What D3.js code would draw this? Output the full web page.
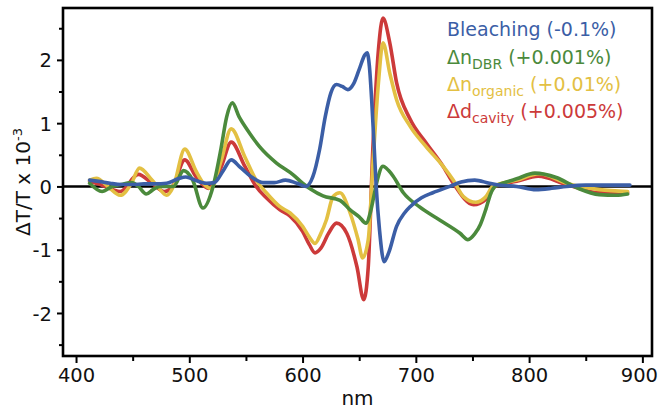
<!DOCTYPE html>
<html>
<head>
<meta charset="utf-8">
<script src="https://cdn.jsdelivr.net/npm/d3@7"></script>
<style>
  html, body { margin: 0; padding: 0; background: #fff; }
  svg { display: block; }
  text { font-family: "DejaVu Sans", Verdana, sans-serif; }
</style>
</head>
<body>
<svg id="chart" width="659" height="412"></svg>
<script>
// ---- data (wavelength in nm, ΔT/T in units of 1e-3) ----
const bleachingNm  = [412,420,430,440,450,460,470,480,490,497,505,515,522,530,537,545,555,565,575,585,595,603,609,615,620,625,630,635,640,645,650,655,657,659,661,663,665,668,672,676,683,690,695,705,715,730,740,752,765,775,789,806,820,833,850,870,889];
const bleachingVal = [0.10,0.08,0.05,0.03,0.03,0.04,0.04,0.05,0.12,0.15,0.10,0.05,0.06,0.25,0.42,0.30,0.15,0.06,0.06,0.10,0.05,0.00,0.15,0.58,1.10,1.48,1.61,1.58,1.53,1.62,1.85,2.08,2.11,1.90,1.37,0.70,0.00,-0.70,-1.19,-1.05,-0.63,-0.42,-0.32,-0.18,-0.10,0.00,0.07,0.10,0.05,0.02,0.00,-0.05,-0.03,0.00,0.02,0.02,0.02];

const dbrNm  = [412,423,432,440,449,455,462,468,474,486,495,503,512,521,528,533,538,544,551,562,577,592,600,607,618,633,642,650,656,660,663,666,671,676,680,689,703,721,739,746,752,757,762,766,770,780,789,805,824,842,862,877,887];
const dbrVal = [0.05,-0.08,0.00,0.03,0.06,0.00,-0.12,-0.05,0.00,0.00,0.25,0.10,-0.34,0.00,0.60,1.10,1.32,1.10,0.90,0.63,0.37,0.18,0.05,-0.04,-0.15,-0.22,-0.37,-0.48,-0.58,-0.40,-0.15,0.10,0.32,0.25,0.16,-0.10,-0.32,-0.53,-0.74,-0.84,-0.75,-0.60,-0.35,-0.12,0.00,0.07,0.12,0.21,0.14,-0.02,-0.13,-0.14,-0.12];

const organicNm  = [412,418,428,439,449,456,467,472,480,486,496,506,512,519,528,537,549,559,568,580,589,600,606,611,616,621,627,633,642,649,653,658,662,667,671,677,683,695,709,724,733,742,753,762,768,789,809,833,862,887];
const organicVal = [0.10,0.13,0.00,-0.14,0.05,0.29,0.10,0.00,-0.14,0.00,0.59,0.24,0.06,-0.03,0.40,0.91,0.47,0.10,-0.10,-0.32,-0.42,-0.63,-0.80,-0.90,-0.75,-0.53,-0.16,-0.10,-0.42,-0.84,-1.13,-0.84,0.32,1.64,2.27,1.79,1.37,0.95,0.63,0.32,0.10,-0.16,-0.25,-0.16,0.00,0.10,0.20,0.05,-0.05,-0.08];

const cavityNm  = [412,423,439,455,467,478,486,496,506,517,528,537,549,559,568,580,589,600,606,611,616,623,630,639,648,654,658,662,667,671,677,683,695,709,724,733,751,762,770,789,808,833,862,887];
const cavityVal = [0.08,0.02,-0.08,0.19,0.05,-0.08,0.02,0.42,0.15,-0.03,0.30,0.70,0.32,0.00,-0.18,-0.37,-0.47,-0.71,-0.92,-1.05,-0.98,-0.74,-0.58,-0.74,-1.27,-1.79,-1.27,0.58,2.16,2.66,2.27,1.64,1.06,0.69,0.32,0.05,-0.29,-0.20,0.00,0.08,0.16,0.03,-0.10,-0.10];

const xTicks = [400, 500, 600, 700, 800, 900];
const xMinor = [450, 550, 650, 750, 850];
const yTicks = [-2, -1, 0, 1, 2];
const yMinor = [-2.5, -1.5, -0.5, 0.5, 1.5, 2.5];

const seriesColors = { cavity: "#cc3a3a", organic: "#e3c043", dbr: "#4b8a3c", bleaching: "#3b5ea6" };

// ---- layout ----
const svg = d3.select("#chart");
const plotLeft = 63, plotRight = 652, plotTop = 8, plotBottom = 356;
const x = d3.scaleLinear().domain([388.5, 908.5]).range([plotLeft, plotRight]);
const y = d3.scaleLinear().domain([-2.68, 2.82]).range([plotBottom, plotTop]);

// zero line
svg.append("line")
  .attr("x1", plotLeft).attr("x2", plotRight)
  .attr("y1", y(0)).attr("y2", y(0))
  .attr("stroke", "#000").attr("stroke-width", 2.6);

// curves
const line = d3.line().x(d => x(d[0])).y(d => y(d[1])).curve(d3.curveMonotoneX);
const series = [
  { nm: cavityNm, v: cavityVal, c: seriesColors.cavity },
  { nm: organicNm, v: organicVal, c: seriesColors.organic },
  { nm: dbrNm, v: dbrVal, c: seriesColors.dbr },
  { nm: bleachingNm, v: bleachingVal, c: seriesColors.bleaching }
];
series.forEach(s => {
  svg.append("path")
    .datum(s.nm.map((n, i) => [n, s.v[i]]))
    .attr("d", line)
    .attr("fill", "none")
    .attr("stroke", s.c)
    .attr("stroke-width", 3.6)
    .attr("stroke-linejoin", "round")
    .attr("stroke-linecap", "round");
});

// axes
const fmt = d => String(d);
const xAxis = svg.append("g").attr("transform", `translate(0,${plotBottom})`)
  .call(d3.axisBottom(x).tickValues(xTicks).tickFormat(fmt).tickSize(7).tickSizeOuter(0).tickPadding(5));
const xAxisMinor = svg.append("g").attr("transform", `translate(0,${plotBottom})`)
  .call(d3.axisBottom(x).tickValues(xMinor).tickSize(5).tickSizeOuter(0).tickFormat(""));
const yAxis = svg.append("g").attr("transform", `translate(${plotLeft},0)`)
  .call(d3.axisLeft(y).tickValues(yTicks).tickFormat(fmt).tickSize(6).tickSizeOuter(0).tickPadding(5));
const yAxisMinor = svg.append("g").attr("transform", `translate(${plotLeft},0)`)
  .call(d3.axisLeft(y).tickValues(yMinor).tickSize(4).tickSizeOuter(0).tickFormat(""));
[xAxis, xAxisMinor, yAxis, yAxisMinor].forEach(g => {
  g.select(".domain").remove();
  g.selectAll(".tick line").attr("stroke", "#000").attr("stroke-width", 2);
  g.selectAll(".tick text").attr("font-size", 19.5).attr("fill", "#111")
    .attr("font-family", '"DejaVu Sans", Verdana, sans-serif');
});
yAxis.selectAll(".tick text").attr("dy", "0.36em");
// keep the last x label inside the picture
xAxis.selectAll(".tick text").filter(d => d === 900).attr("dx", -3.5);

// frame
svg.append("rect")
  .attr("x", plotLeft).attr("y", plotTop)
  .attr("width", plotRight - plotLeft).attr("height", plotBottom - plotTop)
  .attr("fill", "none").attr("stroke", "#000").attr("stroke-width", 2.6);

// axis titles
svg.append("text")
  .attr("x", (plotLeft + plotRight) / 2).attr("y", 405)
  .attr("text-anchor", "middle").attr("font-size", 20).attr("fill", "#111")
  .text("nm");

const yl = svg.append("text")
  .attr("transform", `translate(30,${(plotTop + plotBottom) / 2}) rotate(-90)`)
  .attr("text-anchor", "middle").attr("font-size", 20).attr("fill", "#111");
yl.append("tspan").text("ΔT/T x 10");
yl.append("tspan").attr("font-size", 13).attr("dy", -8).text("-3");

// legend
const legendX = 447;
const legendRows = [
  { main: "Bleaching (-0.1%)", sub: null, tail: null, c: seriesColors.bleaching, yb: 36 },
  { main: "Δn", sub: "DBR", tail: " (+0.001%)", c: seriesColors.dbr, yb: 63.5 },
  { main: "Δn", sub: "organic", tail: " (+0.01%)", c: seriesColors.organic, yb: 90.5 },
  { main: "Δd", sub: "cavity", tail: " (+0.005%)", c: seriesColors.cavity, yb: 117.5 }
];
legendRows.forEach(r => {
  const t = svg.append("text").attr("x", legendX).attr("y", r.yb)
    .attr("font-size", 19).attr("fill", r.c);
  t.append("tspan").text(r.main);
  if (r.sub) {
    t.append("tspan").attr("font-size", 14).attr("dy", 5).text(r.sub);
    t.append("tspan").attr("dy", -5).text(r.tail);
  }
});
</script>
</body>
</html>
